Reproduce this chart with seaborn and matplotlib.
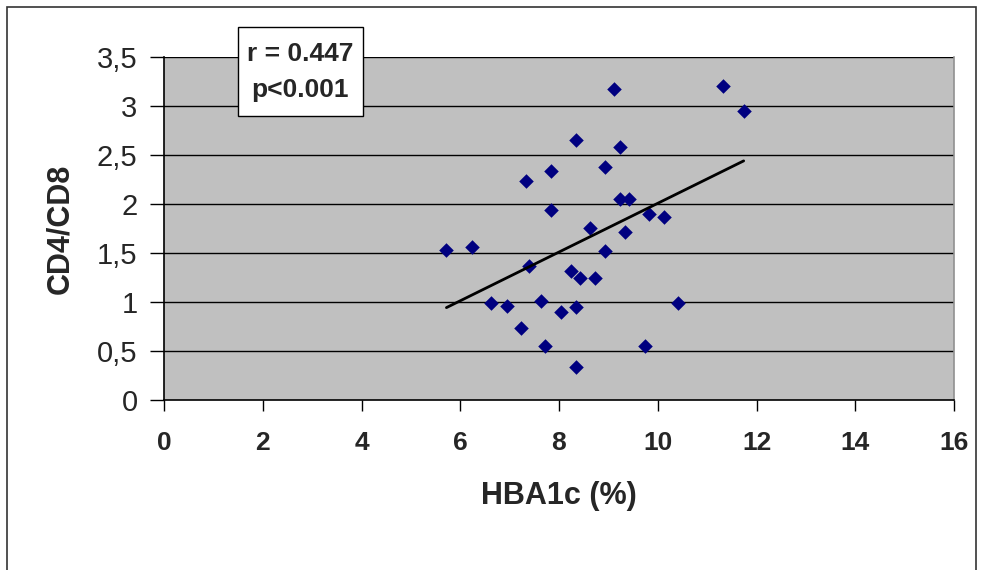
import matplotlib
matplotlib.use("Agg")
import matplotlib.pyplot as plt
import matplotlib.patches as mpatches
from matplotlib.ticker import FuncFormatter
import seaborn as sns
import pandas as pd

hba1c = [9.12, 11.33, 11.74, 8.34, 9.23, 7.83, 7.34, 8.93, 9.23, 9.42, 7.83, 9.82,
         10.13, 8.63, 9.34, 5.72, 6.23, 8.93, 7.40, 8.24, 8.42, 8.72, 6.63, 6.94,
         7.64, 8.05, 8.34, 10.42, 7.23, 7.71, 9.74, 8.34]
cd4_cd8 = [3.17, 3.20, 2.95, 2.65, 2.58, 2.34, 2.23, 2.38, 2.05, 2.05, 1.94, 1.90,
           1.87, 1.76, 1.71, 1.53, 1.56, 1.52, 1.37, 1.32, 1.24, 1.24, 0.99, 0.96,
           1.01, 0.90, 0.95, 0.99, 0.73, 0.55, 0.55, 0.34]
x_ticks = [0, 2, 4, 6, 8, 10, 12, 14, 16]
y_ticks = [0, 0.5, 1, 1.5, 2, 2.5, 3, 3.5]
stat_r = "r = 0.447"
stat_p = "p<0.001"

df = pd.DataFrame({"HBA1c (%)": hba1c, "CD4/CD8": cd4_cd8})

sns.set_style("white")
plt.rcParams["font.family"] = ["Liberation Sans", "DejaVu Sans"]

fig = plt.figure(figsize=(9.82, 5.70), dpi=100)
ax = fig.add_axes([164/982, 1 - 400/570, (954 - 164)/982, (400 - 57)/570])
ax.set_facecolor("#C0C0C0")

sns.regplot(data=df, x="HBA1c (%)", y="CD4/CD8", ax=ax, ci=None, truncate=True,
            marker="D",
            scatter_kws={"s": 55, "color": "#000080", "alpha": 1, "linewidths": 0, "zorder": 3},
            line_kws={"color": "black", "linewidth": 2, "zorder": 4})

ax.set_xlim(0, 16)
ax.set_ylim(0, 3.5)
ax.set_xticks(x_ticks)
ax.set_yticks(y_ticks)
ax.yaxis.set_major_formatter(FuncFormatter(lambda v, p: f"{v:g}".replace(".", ",")))
ax.xaxis.set_major_formatter(FuncFormatter(lambda v, p: f"{v:g}"))
for yv in y_ticks[1:]:
    ax.axhline(yv, color="black", linewidth=1, zorder=1)

ax.tick_params(axis="y", direction="out", length=10, width=1, color="black",
               labelsize=21, pad=9, left=True)
ax.tick_params(axis="x", direction="out", length=8, width=1, color="black",
               labelsize=19, pad=14, bottom=True)
for lab in ax.get_xticklabels():
    lab.set_fontweight("bold")

for s in ["left", "bottom"]:
    ax.spines[s].set_color("black")
    ax.spines[s].set_linewidth(1.2)
ax.spines["right"].set_color("#909090")
ax.spines["right"].set_linewidth(1.2)
ax.spines["top"].set_visible(False)

ax.set_xlabel("HBA1c (%)", fontsize=22, fontweight="bold", labelpad=19)
ax.set_ylabel("CD4/CD8", fontsize=22, fontweight="bold", labelpad=16)

box = mpatches.Rectangle((238/982, 1 - 116/570), (363 - 238)/982, (116 - 27)/570,
                         transform=fig.transFigure, facecolor="white",
                         edgecolor="black", linewidth=1, zorder=10)
fig.patches.append(box)
fig.text(300/982, 1 - 54/570, stat_r, ha="center", va="center",
         fontsize=19, fontweight="bold", zorder=11)
fig.text(300/982, 1 - 90/570, stat_p, ha="center", va="center",
         fontsize=19, fontweight="bold", zorder=11)

frame = mpatches.Rectangle((7/982, -0.05), (976 - 7)/982, 1 - 7/570 + 0.05,
                           transform=fig.transFigure, fill=False,
                           edgecolor="#333333", linewidth=1.2)
fig.patches.append(frame)

fig.savefig("out.png", dpi=100)
